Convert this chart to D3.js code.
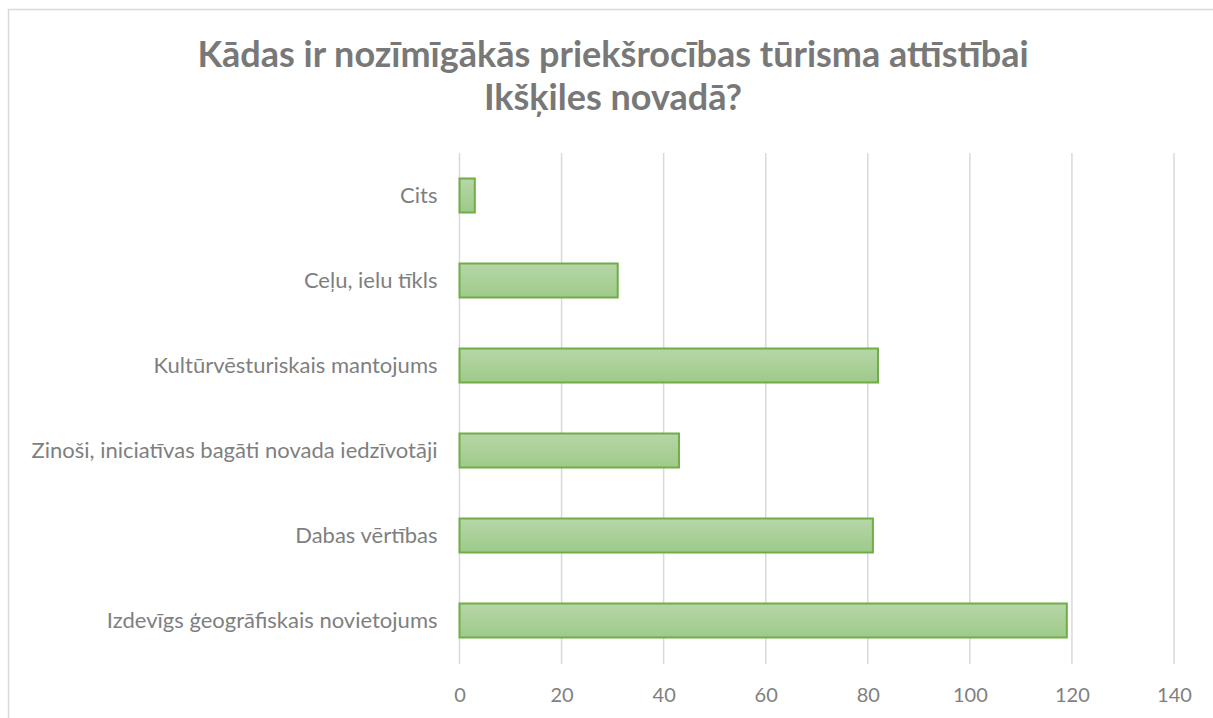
<!DOCTYPE html>
<html>
<head>
<meta charset="utf-8">
<script src="https://cdn.jsdelivr.net/npm/d3@7"></script>
<style>
  body { margin: 0; background: #fff; }
  text { font-family: Lato, "Open Sans", sans-serif; fill: #7f7f7f; }
</style>
</head>
<body>
<div id="chart"></div>
<script>

var categories = ["Cits", "Ceļu, ielu tīkls", "Kultūrvēsturiskais mantojums",
  "Zinoši, iniciatīvas bagāti novada iedzīvotāji", "Dabas vērtības",
  "Izdevīgs ģeogrāfiskais novietojums"];
var values = [3, 31, 82, 43, 81, 119];
var xTicks = [0, 20, 40, 60, 80, 100, 120, 140];
var titleLines = ["Kādas ir nozīmīgākās priekšrocības tūrisma attīstībai", "Ikšķiles novadā?"];

var width = 1213;
var height = 718;
var margin = {top: 153, right: 39, bottom: 54, left: 459.5};

var svg = d3.select("#chart")
  .append("svg")
  .attr("width", width)
  .attr("height", height);

// bar gradient
var grad = svg.append("defs").append("linearGradient")
  .attr("id", "barGrad")
  .attr("x1", 0).attr("y1", 0).attr("x2", 0).attr("y2", 1);
grad.append("stop").attr("offset", "0%").attr("stop-color", "#b6d6a8");
grad.append("stop").attr("offset", "100%").attr("stop-color", "#9fca8a");

// chart frame (only top and left edges visible)
svg.append("rect")
  .attr("x", 8.5).attr("y", 9.5)
  .attr("width", width + 20).attr("height", height + 20)
  .attr("fill", "none")
  .attr("stroke", "#d9d9d9")
  .attr("stroke-width", 1.5);

var title = svg.append("text")
  .attr("text-anchor", "middle")
  .style("font-size", "36px")
  .style("font-weight", "bold")
  .style("fill", "#787878");
title.selectAll("tspan")
  .data(titleLines)
  .enter()
  .append("tspan")
  .attr("x", 613)
  .attr("y", function(d, i) { return 67 + i * 43; })
  .text(function(d) { return d; });

var xScale = d3.scaleLinear()
  .domain([0, 140])
  .range([margin.left, width - margin.right]);

var yScale = d3.scaleBand()
  .domain(categories)
  .range([margin.top, height - margin.bottom - 1])
  .paddingInner(0.6)
  .paddingOuter(0.3);

var g = svg.append("g");

// gridlines
g.selectAll(".grid")
  .data(xTicks)
  .enter()
  .append("line")
  .attr("class", "grid")
  .attr("x1", function(d) { return xScale(d); })
  .attr("x2", function(d) { return xScale(d); })
  .attr("y1", margin.top)
  .attr("y2", height - margin.bottom)
  .attr("stroke", "#d9d9d9")
  .attr("stroke-width", 1.5);

// x axis labels
var xAxis = svg.append("g")
  .attr("transform", "translate(0," + (height - margin.bottom) + ")")
  .call(d3.axisBottom(xScale).tickValues(xTicks).tickSize(0).tickPadding(24));
xAxis.select(".domain").remove();
xAxis.selectAll("text")
  .style("font-size", "20px")
  .style("font-family", "Lato, 'Open Sans', sans-serif")
  .attr("fill", "#7f7f7f");

// y axis labels
var yAxis = svg.append("g")
  .attr("transform", "translate(" + margin.left + ",0)")
  .call(d3.axisLeft(yScale).tickSize(0).tickPadding(22));
yAxis.select(".domain").remove();
yAxis.selectAll("text")
  .style("font-size", "22px")
  .style("font-family", "Lato, 'Open Sans', sans-serif")
  .attr("fill", "#7f7f7f");

// bars
g.selectAll(".bar")
  .data(values)
  .enter()
  .append("rect")
  .attr("class", "bar")
  .attr("x", xScale(0))
  .attr("y", function(d, i) { return yScale(categories[i]); })
  .attr("width", function(d) { return xScale(d) - xScale(0); })
  .attr("height", yScale.bandwidth())
  .attr("fill", "url(#barGrad)")
  .attr("stroke", "#70ad47")
  .attr("stroke-width", 2);

</script>
</body>
</html>
